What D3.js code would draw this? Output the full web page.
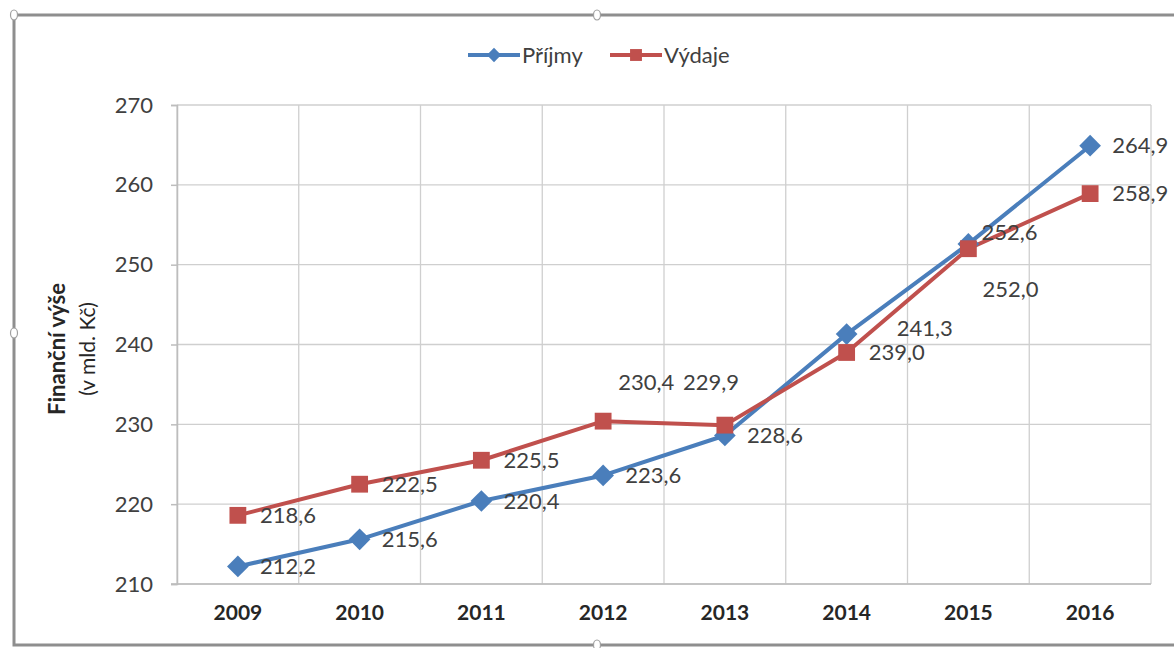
<!DOCTYPE html>
<html>
<head>
<meta charset="utf-8">
<script src="https://cdn.jsdelivr.net/npm/d3@7"></script>
<style>
  body { margin: 0; background: #fff; }
  svg { display: block; font-family: Lato, "Open Sans", sans-serif; }
</style>
</head>
<body>
<svg width="1174" height="648"></svg>
<script>
// data
const years = ['2009', '2010', '2011', '2012', '2013', '2014', '2015', '2016'];
const prijmy = [212.2, 215.6, 220.4, 223.6, 228.6, 241.3, 252.6, 264.9];
const vydaje = [218.6, 222.5, 225.5, 230.4, 229.9, 239.0, 252.0, 258.9];
const yTicks = [210, 220, 230, 240, 250, 260, 270];

const svg = d3.select('svg');
const plot = { left: 177, right: 1151, top: 105, bottom: 584 };

const x = d3.scaleBand().domain(years).range([plot.left, plot.right]);
const y = d3.scaleLinear().domain([210, 270]).range([plot.bottom, plot.top]);
const fmt = v => d3.format('.1f')(v).replace('.', ',');

// outer frame (chart object border, cut on the right)
const frame = svg.append('g').attr('stroke', '#8e8e8e').attr('stroke-width', 3).attr('fill', 'none');
frame.append('path').attr('d', 'M1180,15 H14 V645 H1180');
[[14, 15], [597, 15], [14, 333], [597, 645]].forEach(p => {
  svg.append('ellipse').attr('cx', p[0]).attr('cy', p[1]).attr('rx', 3.5).attr('ry', 5)
    .attr('fill', '#fff').attr('stroke', '#a0a0a0').attr('stroke-width', 1.2);
});

// grid
const grid = svg.append('g').attr('stroke', '#cfcfcf').attr('stroke-width', 1.3);
grid.selectAll('.h').data(yTicks).enter().append('line')
  .attr('x1', plot.left).attr('x2', plot.right)
  .attr('y1', d => y(d)).attr('y2', d => y(d));
grid.selectAll('.v').data(years.concat(['end'])).enter().append('line')
  .attr('x1', (d, i) => plot.left + i * x.bandwidth())
  .attr('x2', (d, i) => plot.left + i * x.bandwidth())
  .attr('y1', plot.top).attr('y2', plot.bottom);
svg.append('line').attr('x1', plot.left - 6).attr('x2', plot.right)
  .attr('y1', plot.bottom).attr('y2', plot.bottom).attr('stroke', '#bdbdbd').attr('stroke-width', 1.5);

// y axis
const yAxis = svg.append('g').attr('transform', `translate(${plot.left},0)`)
  .call(d3.axisLeft(y).tickValues(yTicks).tickSize(6).tickPadding(18));
yAxis.select('.domain').attr('stroke', '#bdbdbd').attr('stroke-width', 1.5);
yAxis.selectAll('.tick line').attr('stroke', '#bdbdbd').attr('stroke-width', 1.5);
yAxis.selectAll('text').attr('font-size', 22).attr('fill', '#404040')
  .attr('font-family', 'Lato, sans-serif');

// x axis
const xAxis = svg.append('g').attr('transform', `translate(0,${plot.bottom})`)
  .call(d3.axisBottom(x).tickSize(0).tickPadding(21));
xAxis.select('.domain').remove();
xAxis.selectAll('text').attr('font-size', 21).attr('font-weight', 'bold')
  .attr('fill', '#262626').attr('font-family', 'Lato, sans-serif');

// y title
const yt = svg.append('text').attr('transform', 'translate(65,349) rotate(-90)')
  .attr('text-anchor', 'middle').attr('fill', '#262626');
yt.append('tspan').attr('x', 0).attr('dy', 0).attr('font-weight', 'bold').attr('font-size', 22).text('Finanční výše');
yt.append('tspan').attr('x', 0).attr('dy', 30).attr('font-size', 21).text('(v mld. Kč)');

// series
const series = [
  { name: 'Příjmy', values: prijmy, color: '#4a7ebb', shape: d3.symbolDiamond2 },
  { name: 'Výdaje', values: vydaje, color: '#c0504d', shape: d3.symbolSquare2 }
];
// label placement: [dx from point to label start, dy of label centre]
const labelShift = {
  'Příjmy': [[22, 0], [22, 0], [22, 0], [22, 0], [22, 0], [50, -6], [13, -12], [22, 0]],
  'Výdaje': [[22, 0], [22, 0], [22, 0], [15, -39], [-42, -43], [22, 0], [14, 41], [22, 0]]
};

const line = d3.line().x((d, i) => x(years[i]) + x.bandwidth() / 2).y(d => y(d));

series.forEach(s => {
  svg.append('path').datum(s.values).attr('d', line)
    .attr('fill', 'none').attr('stroke', s.color).attr('stroke-width', 4).attr('stroke-linejoin', 'round');
});
series.forEach(s => {
  svg.append('g').selectAll('path').data(s.values).enter().append('path')
    .attr('transform', (d, i) => `translate(${x(years[i]) + x.bandwidth() / 2},${y(d)})`)
    .attr('d', d3.symbol().type(s.shape).size(s.shape === d3.symbolSquare2 ? 360 : 300))
    .attr('fill', s.color).attr('stroke', 'none');
});
series.forEach(s => {
  svg.append('g').selectAll('text').data(s.values).enter().append('text')
    .attr('x', (d, i) => x(years[i]) + x.bandwidth() / 2 + labelShift[s.name][i][0])
    .attr('y', (d, i) => y(d) + labelShift[s.name][i][1])
    .attr('dy', '0.35em').attr('font-size', 22).attr('fill', '#404040')
    .text(d => fmt(d));
});

// legend
const legend = svg.append('g').attr('transform', 'translate(0,55)');
let lx = 468;
series.forEach(s => {
  const g = legend.append('g').attr('transform', `translate(${lx},0)`);
  g.append('line').attr('x1', 0).attr('x2', 52).attr('stroke', s.color).attr('stroke-width', 4);
  g.append('path').attr('transform', 'translate(26,0)')
    .attr('d', d3.symbol().type(s.shape).size(s.shape === d3.symbolSquare2 ? 180 : 130))
    .attr('fill', s.color);
  g.append('text').attr('x', 54).attr('dy', '0.35em').attr('font-size', 22).attr('fill', '#404040').text(s.name);
  lx += 142;
});
</script>
</body>
</html>
